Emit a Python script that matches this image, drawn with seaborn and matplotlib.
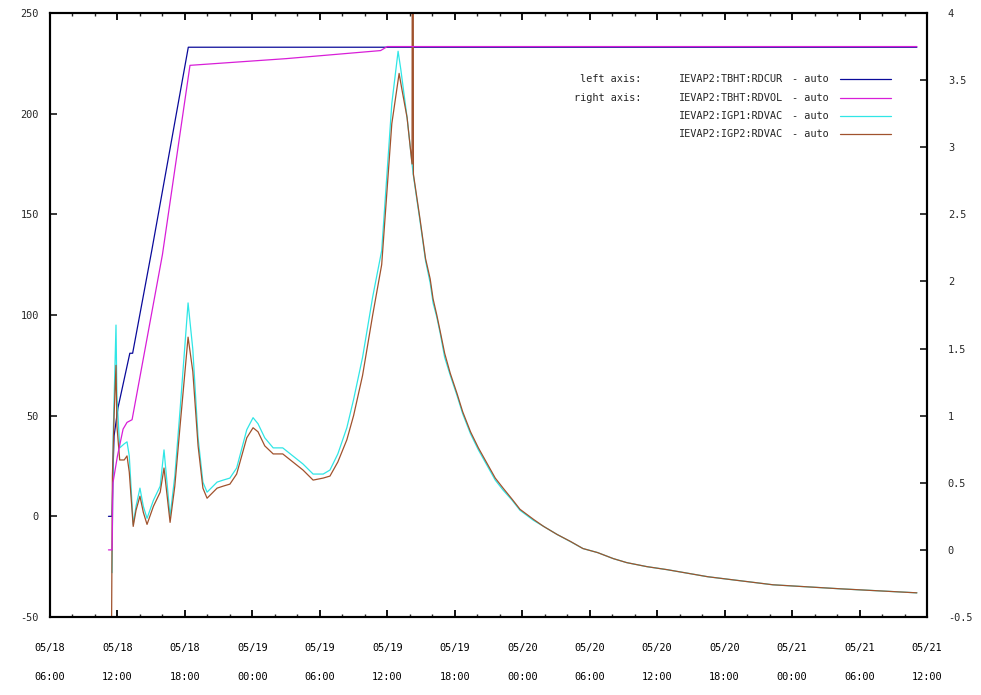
import matplotlib
matplotlib.use("Agg")
import matplotlib.pyplot as plt
import numpy as np
import pandas as pd
import seaborn as sns
from matplotlib.lines import Line2D
from matplotlib.ticker import FixedLocator, MultipleLocator

# ---------------- data (x = hours since 05/18 06:00) ----------------
cur_hours = [5.2, 5.52, 5.6, 5.7, 6.05, 7.1, 7.35, 9.05, 12.3, 77.1]
cur_values = [0, 0, 22, 40, 54, 81, 81, 132, 233, 233]

vol_hours = [5.2, 5.52, 5.6, 6.0, 6.5, 6.85, 7.3, 10.0, 12.45, 21.0, 29.4, 30.0, 77.1]
vol_values = [0, 0, 0.5, 0.7, 0.9, 0.95, 0.97, 2.2, 3.61, 3.66, 3.72, 3.75, 3.75]

igp1_hours = [5.52, 5.62, 5.87, 5.95, 6.2, 6.6, 6.85, 7.05, 7.4, 7.65, 8.0, 8.3, 8.63,
              9.2, 9.8, 10.14, 10.68, 11.1, 11.57, 12.28, 12.7, 13.17, 13.6, 13.97,
              14.86, 15.4, 16.0, 16.6, 17.5, 18.06, 18.5, 19.1, 19.85, 20.7, 21.6,
              22.5, 23.4, 24.3, 24.9, 25.6, 26.4, 27.0, 27.8, 28.7, 29.5, 30.4,
              30.96, 31.2, 31.76, 32.3, 32.9, 33.4, 33.81, 34.07, 34.4, 34.7, 35.1,
              35.6, 36.2, 36.7, 37.4, 38.1, 38.9, 39.6, 40.3, 41.1, 41.8, 43.0,
              43.9, 45.1, 46.3, 47.4, 48.7, 50.1, 51.3, 53.1, 54.9, 58.5, 64.3,
              70.3, 77.1]
igp1_values = [-28, 40, 95, 60, 34, 36, 37, 30, -4, 5, 14, 5, -1,
               8, 15, 33, 0, 20, 53, 106, 83, 39, 17, 12,
               17, 18, 19, 24, 43, 49, 46, 39, 34, 34, 30,
               26, 21, 21, 23, 31, 44, 58, 79, 109, 132, 205,
               231, 222, 198, 170, 147, 127, 116, 106, 99, 91, 79,
               70, 60, 51, 41, 33, 25, 18, 13, 8, 3, -2,
               -5, -9, -12.6, -16, -18, -21, -23, -25, -26.5, -30, -34,
               -36, -38]

igp2_hours = [5.45, 5.55, 5.7, 5.87, 5.95, 6.2, 6.6, 6.85, 7.05, 7.4, 7.65, 8.0, 8.3,
              8.63, 9.2, 9.8, 10.14, 10.68, 11.1, 11.57, 12.28, 12.7, 13.17, 13.6,
              13.97, 14.86, 15.4, 16.0, 16.6, 17.5, 18.06, 18.5, 19.1, 19.85, 20.7,
              21.6, 22.5, 23.4, 24.3, 24.9, 25.6, 26.4, 27.0, 27.8, 28.7, 29.5,
              30.4, 31.05, 31.3, 31.76, 32.2, 32.27, 32.32, 32.9, 33.4, 33.81, 34.07,
              34.4, 34.7, 35.1, 35.6, 36.2, 36.7, 37.4, 38.1, 38.9, 39.6, 40.3,
              41.1, 41.8, 43.0, 43.9, 45.1, 46.3, 47.4, 48.7, 50.1, 51.3, 53.1,
              54.9, 58.5, 64.3, 70.3, 77.1]
igp2_values = [-80, 20, 50, 75, 45, 28, 28, 30, 22, -5, 3, 10, 2,
               -4, 5, 12, 24, -3, 15, 45, 89, 72, 35, 14,
               9, 14, 15, 16, 21, 39, 44, 42, 35, 31, 31,
               27, 23, 18, 19, 20, 27, 38, 50, 70, 100, 125,
               195, 220, 212, 198, 175, 600, 170, 148, 128, 118, 108,
               100, 92, 81, 71, 61, 52, 42, 34, 26, 19, 14,
               8.5, 3.5, -1.5, -5, -9, -12.5, -16, -18, -21, -23, -25,
               -26.5, -30, -34, -36, -38]

tick_hours = [0, 6, 12, 18, 24, 30, 36, 42, 48, 54, 60, 66, 72, 78]
tick_dates = ["05/18", "05/18", "05/18", "05/19", "05/19", "05/19", "05/19",
              "05/20", "05/20", "05/20", "05/20", "05/21", "05/21", "05/21"]
tick_times = ["06:00", "12:00", "18:00", "00:00", "06:00", "12:00", "18:00",
              "00:00", "06:00", "12:00", "18:00", "00:00", "06:00", "12:00"]
left_ticks = [-50, 0, 50, 100, 150, 200, 250]
right_ticks = [-0.5, 0, 0.5, 1, 1.5, 2, 2.5, 3, 3.5, 4]
right_labels = ["-0.5", "0", "0.5", "1", "1.5", "2", "2.5", "3", "3.5", "4"]

series_names = ["IEVAP2:TBHT:RDCUR", "IEVAP2:TBHT:RDVOL",
                "IEVAP2:IGP1:RDVAC", "IEVAP2:IGP2:RDVAC"]
series_colors = ["#0a0a9a", "#d81ed8", "#30e6e6", "#a0522d"]
axis_notes = ["left axis:", "right axis:", "", ""]

# ---------------- style ----------------
sns.set_style("white")
plt.rcParams["font.family"] = ["DejaVu Sans Mono", "DejaVu Sans"]
FS = 7.4

W, H = 981, 695
fig = plt.figure(figsize=(W / 100, H / 100), dpi=100)
L, R, T, B = 50, 927, 13, 617
ax = fig.add_axes([L / W, 1 - B / H, (R - L) / W, (B - T) / H])
ax2 = ax.twinx()

lw = 0.9
sns.lineplot(x=cur_hours, y=cur_values, ax=ax, color=series_colors[0], lw=lw,
             estimator=None, sort=False)
sns.lineplot(x=igp1_hours, y=igp1_values, ax=ax, color=series_colors[2], lw=lw,
             estimator=None, sort=False)
sns.lineplot(x=igp2_hours, y=igp2_values, ax=ax, color=series_colors[3], lw=lw,
             estimator=None, sort=False)
sns.lineplot(x=vol_hours, y=vol_values, ax=ax2, color=series_colors[1], lw=lw,
             estimator=None, sort=False)

ax.set_xlim(0, 78)
ax.set_ylim(-50, 250)
ax2.set_ylim(-0.5, 4)
ax.set_xlabel("")
ax.set_ylabel("")
ax2.set_ylabel("")

ax.xaxis.set_major_locator(FixedLocator(tick_hours))
ax.xaxis.set_minor_locator(MultipleLocator(2))
ax.set_xticklabels([f"{d}\n{t}" for d, t in zip(tick_dates, tick_times)])
for lbl in ax.get_xticklabels():
    lbl.set_linespacing(3.3)
ax.set_yticks(left_ticks)
ax.set_yticklabels([str(v) for v in left_ticks])
ax2.set_yticks(right_ticks)
ax2.set_yticklabels(right_labels)

ax.tick_params(axis="x", which="major", direction="in", top=True, bottom=True,
               length=5, width=1.3, labelsize=FS, pad=19, colors="black")
ax.tick_params(axis="x", which="minor", direction="in", top=True, bottom=True,
               length=2.5, width=1.0)
ax.tick_params(axis="y", which="major", direction="in", left=True, right=False,
               length=5, width=1.3, labelsize=FS, pad=8)
ax2.tick_params(axis="y", which="major", direction="in", right=True, left=False,
                length=5, width=1.3, labelsize=FS, pad=15)

for a in (ax, ax2):
    for s in a.spines.values():
        s.set_linewidth(1.5)
        s.set_color("black")
        s.set_visible(True)

# ---------------- legend (gnuplot style) ----------------
rows_y = [79, 98, 116, 134]
for note, name, col, y in zip(axis_notes, series_names, series_colors, rows_y):
    fy = 1 - y / H
    if note:
        fig.text(641 / W, fy, note, ha="right", va="center", fontsize=FS)
    fig.text(679 / W, fy, name, ha="left", va="center", fontsize=FS)
    fig.text(792 / W, fy, "- auto", ha="left", va="center", fontsize=FS)
    fig.add_artist(Line2D([840 / W, 891 / W], [fy, fy], color=col, lw=lw,
                          transform=fig.transFigure))

fig.savefig("out.png", dpi=100)
